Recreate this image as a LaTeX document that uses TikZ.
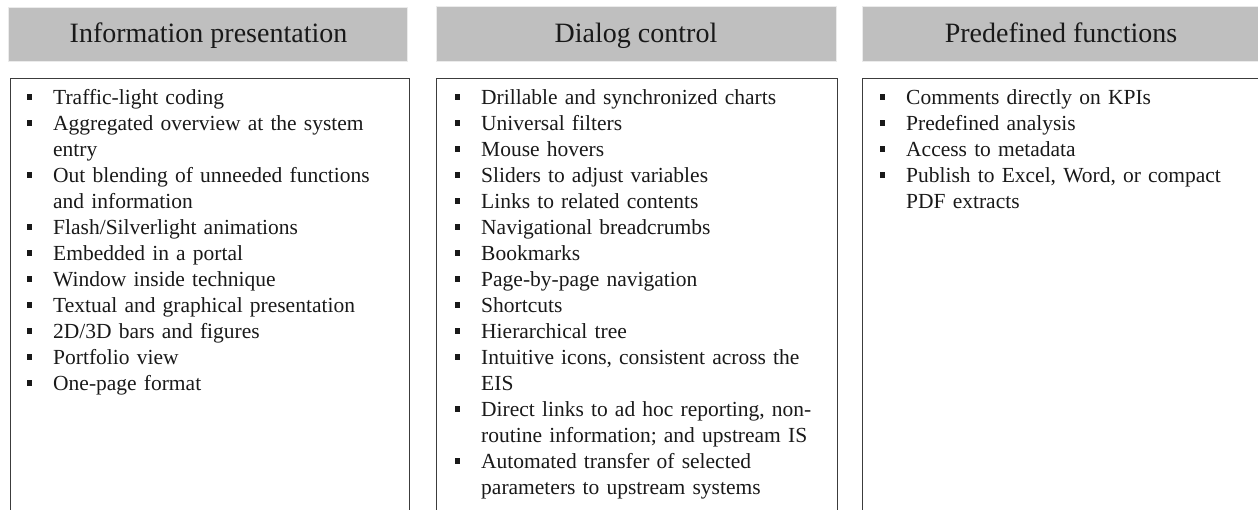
\documentclass[tikz,border=0pt]{standalone}
\usepackage{fontspec}
\setmainfont{Liberation Serif}
\definecolor{hdrgray}{RGB}{191,191,191}
\definecolor{boxline}{RGB}{60,60,60}
\definecolor{txt}{RGB}{25,25,25}
\newcommand{\bul}{\leavevmode\llap{\raisebox{5pt}{\rule{5.5pt}{5.5pt}}\hspace{21pt}}}
\begin{document}
\begin{tikzpicture}[x=1pt,y=-1pt,
  hdr/.style={fill=hdrgray, draw=white!92!black, line width=0.8pt, inner sep=0pt},
  ttl/.style={anchor=base, inner sep=0pt, font=\fontsize{28}{32}\selectfont, text=txt},
  cbox/.style={draw=boxline, line width=1.1pt, inner sep=0pt, anchor=north west},
  lst/.style={anchor=base west, inner sep=0pt, text width=#1, align=left,
    font=\fontsize{21.5}{26}\selectfont, text=txt}]
\useasboundingbox (0,0) rectangle (1258,510);

% headers
\node[hdr, minimum width=399pt, minimum height=54pt] (h1) at (207.5,34) {};
\node[hdr, minimum width=400pt, minimum height=55pt] (h2) at (636,33.5) {};
\node[hdr, minimum width=410pt, minimum height=55pt] (h3) at (1067,33.5) {};
\node[ttl] (t1) at (208.5,43) {Information presentation};
\node[ttl] (t2) at (636,43) {Dialog control};
\node[ttl] (t3) at (1061,43) {Predefined functions};

% content boxes
\node[cbox, minimum width=399pt, minimum height=470pt] (b1) at (10,78) {};
\node[cbox, minimum width=401pt, minimum height=470pt] (b2) at (436,78) {};
\node[cbox, minimum width=420pt, minimum height=470pt] (b3) at (862,78) {};

% lists
\node[lst=350pt] (l1) at (53,105) {%
\bul Traffic-light coding\\
\bul Aggregated overview at the system\\
entry\\
\bul Out blending of unneeded functions\\
and information\\
\bul Flash/Silverlight animations\\
\bul Embedded in a portal\\
\bul Window inside technique\\
\bul Textual and graphical presentation\\
\bul 2D/3D bars and figures\\
\bul Portfolio view\\
\bul One-page format};

\node[lst=350pt] (l2) at (481,105) {%
\bul Drillable and synchronized charts\\
\bul Universal filters\\
\bul Mouse hovers\\
\bul Sliders to adjust variables\\
\bul Links to related contents\\
\bul Navigational breadcrumbs\\
\bul Bookmarks\\
\bul Page-by-page navigation\\
\bul Shortcuts\\
\bul Hierarchical tree\\
\bul Intuitive icons, consistent across the\\
EIS\\
\bul Direct links to ad hoc reporting, non-\\
routine information; and upstream IS\\
\bul Automated transfer of selected\\
parameters to upstream systems};

\node[lst=345pt] (l3) at (906,105) {%
\bul Comments directly on KPIs\\
\bul Predefined analysis\\
\bul Access to metadata\\
\bul Publish to Excel, Word, or compact\\
PDF extracts};
\end{tikzpicture}
\end{document}
